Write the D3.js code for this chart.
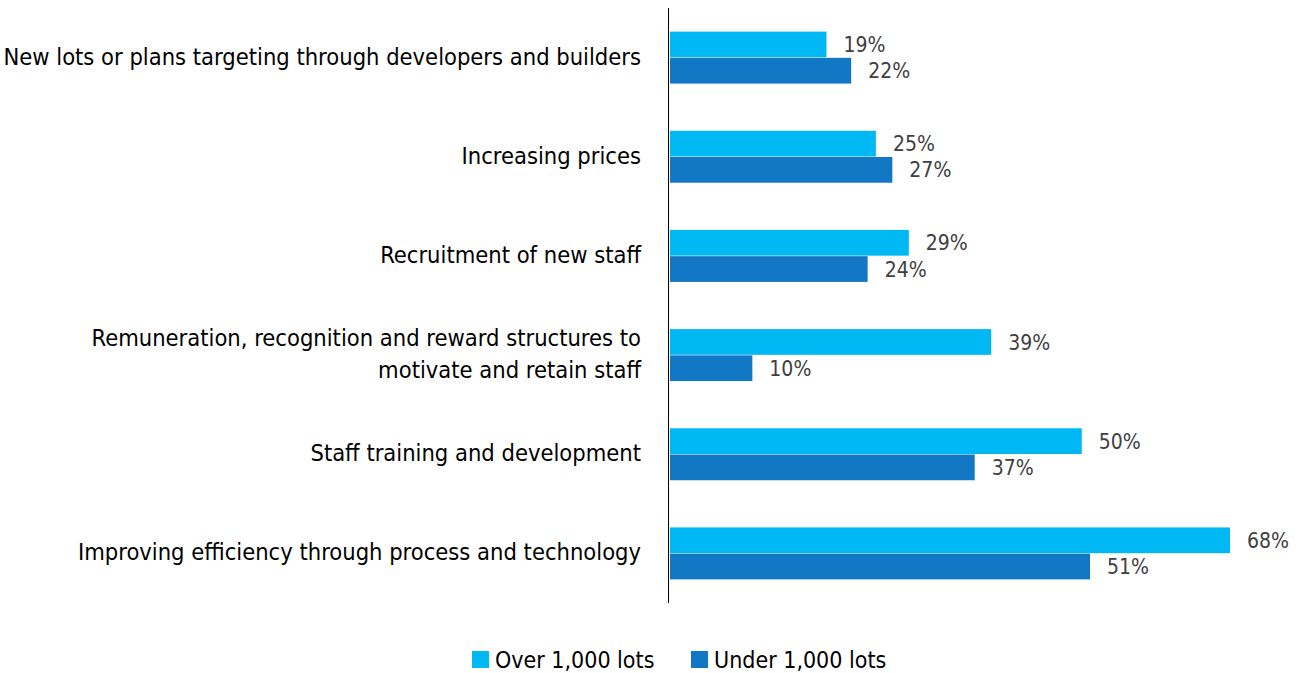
<!DOCTYPE html>
<html><head><meta charset="utf-8">
<script src="https://cdn.jsdelivr.net/npm/d3@7"></script>
<style>
html,body{margin:0;padding:0;background:#fff;}
svg{display:block;font-family:"Liberation Sans Narrow","Arial Narrow","DejaVu Sans Condensed",sans-serif;}
</style></head>
<body><svg id="chart" width="1301" height="673"></svg>
<script>
const categories = [
  ["New lots or plans targeting through developers and builders"],
  ["Increasing prices"],
  ["Recruitment of new staff"],
  ["Remuneration, recognition and reward structures to", "motivate and retain staff"],
  ["Staff training and development"],
  ["Improving efficiency through process and technology"]
];
const seriesNames = ["Over 1,000 lots", "Under 1,000 lots"];
const overValues = [19, 25, 29, 39, 50, 68];
const underValues = [22, 27, 24, 10, 37, 51];
const colors = ["#00B8F4", "#1277C5"];

const svg = d3.select("#chart");
const x0 = 670;
const x = d3.scaleLinear().domain([0, 68]).range([x0, 1230]);
const y = d3.scaleBand().domain(d3.range(categories.length)).range([8, 603]).paddingInner(0.476).paddingOuter(0.238);
const ySub = d3.scaleBand().domain([0, 1]).range([0, y.bandwidth()]).paddingInner(0.02);

const series = [overValues, underValues];
series.forEach((vals, s) => {
  const g = svg.append("g");
  g.selectAll("rect").data(vals).join("rect")
    .attr("x", x(0))
    .attr("y", (d, i) => y(i) + ySub(s))
    .attr("width", d => x(d) - x(0))
    .attr("height", ySub.bandwidth())
    .attr("fill", colors[s]);
  g.selectAll("text").data(vals).join("text")
    .attr("x", d => x(d) + 17)
    .attr("y", (d, i) => y(i) + ySub(s) + ySub.bandwidth() / 2)
    .attr("dy", "0.36em")
    .attr("font-size", 21)
    .attr("fill", "#404040")
    .text(d => d + "%");
});

// axis line
svg.append("line").attr("x1", x0 - 1.5).attr("x2", x0 - 1.5).attr("y1", 8).attr("y2", 603)
  .attr("stroke", "#000").attr("stroke-width", 1);

// category labels
categories.forEach((lines, i) => {
  const cy = y(i) + y.bandwidth() / 2 - 1.5;
  const t = svg.append("text").attr("text-anchor", "end").attr("font-size", 23.5).attr("fill", "#000");
  lines.forEach((ln, k) => {
    t.append("tspan").attr("x", 641)
      .attr("y", cy + (k - (lines.length - 1) / 2) * 32)
      .attr("dy", "0.36em").text(ln);
  });
});

// legend
const legend = svg.append("g");
const legX = [472, 691];
seriesNames.forEach((n, s) => {
  legend.append("rect").attr("x", legX[s]).attr("y", 651).attr("width", 17).attr("height", 17).attr("fill", colors[s]);
  legend.append("text").attr("x", legX[s] + 23).attr("y", 659.5).attr("dy", "0.36em")
    .attr("font-size", 23).attr("fill", "#000").text(n);
});
</script></body></html>
